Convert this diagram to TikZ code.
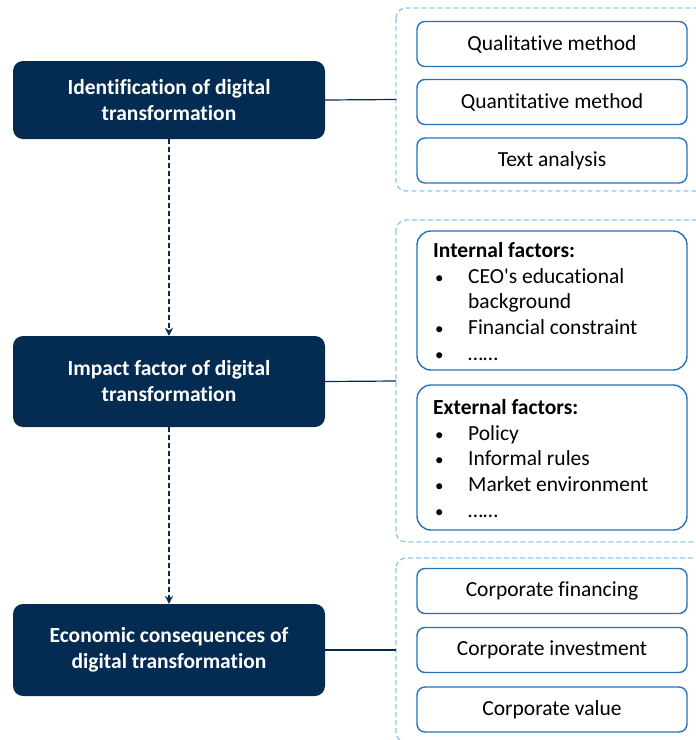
\documentclass[tikz,border=0pt]{standalone}
\usepackage{fontspec}
\setmainfont{Carlito}[Ligatures={TeXOff,NoCommon}]
\usetikzlibrary{arrows.meta}
\definecolor{navy}{RGB}{4,44,82}
\definecolor{boxblue}{RGB}{36,114,186}
\definecolor{lightdash}{RGB}{140,196,232}
\tikzset{
  mainbox/.style={draw=none, fill=navy, rounded corners=10pt, minimum width=312pt, text=white, font=\fontsize{21.5}{26}\selectfont\bfseries, align=center, inner sep=0pt},
  group/.style={draw=lightdash, dashed, dash pattern=on 5pt off 3pt, line width=1.2pt, rounded corners=10pt, inner sep=0pt},
  itembox/.style={draw=boxblue, line width=1.4pt, rounded corners=8pt, minimum width=270pt, minimum height=45pt, font=\fontsize{21.5}{26}\selectfont, inner sep=0pt},
  listbox/.style={draw=boxblue, line width=1.4pt, rounded corners=14pt, minimum width=270pt, inner sep=0pt},
  listtext/.style={anchor=north west, inner sep=0pt, align=left, font=\fontsize{21.5}{25.8}\selectfont},
  flow/.style={navy, line width=1.2pt, dash pattern=on 5pt off 3pt, -{Stealth[length=8pt,width=8pt]}},
  link/.style={navy, line width=1.2pt}
}
\newcommand{\bitem}[1]{\makebox[35pt][l]{\hspace{2pt}{\fontsize{17}{17}\selectfont•}}#1}
\begin{document}
\begin{tikzpicture}[x=1pt,y=-1pt]
\useasboundingbox (0,0) rectangle (696,740);
% dashed groups
\draw[group] (396,8) rectangle (712,191);
\coordinate (g1) at (396,99.5);
\draw[group] (396,220) rectangle (712,542);
\coordinate (g2) at (396,381);
\draw[group] (396,558) rectangle (712,742);
\coordinate (g3) at (396,650);
% main boxes
\node[mainbox, minimum height=78pt] (b1) at (169,100) {Identification of digital\\transformation};
\node[mainbox, minimum height=91pt] (b2) at (169,381.5) {Impact factor of digital\\transformation};
\node[mainbox, minimum height=92pt] (b3) at (169,650) {Economic consequences of\\digital transformation};
% flow arrows
\draw[flow] (b1.south) -- (b2.north);
\draw[flow] (b2.south) -- (b3.north);
% links
\draw[link] (b1.east) -- (g1);
\draw[link] (b2.east) -- (g2);
\draw[link] (b3.east) -- (g3);
% group 1 items
\node[itembox] (q1) at (552,44) {Qualitative method};
\node[itembox] (q2) at (552,102) {Quantitative method};
\node[itembox] (q3) at (552,160.5) {Text analysis};
% group 2 lists
\node[listbox, minimum height=139pt] (inf) at (552,300.5) {};
\node[listtext] (inft) at (433,242) {\textbf{Internal factors:}\\\bitem{CEO's educational}\\\hspace*{35pt}background\\\bitem{Financial constraint}\\\bitem{……}};
\node[listbox, minimum height=145pt] (exf) at (552,457.5) {};
\node[listtext] (exft) at (433,399) {\textbf{External factors:}\\\bitem{Policy}\\\bitem{Informal rules}\\\bitem{Market environment}\\\bitem{……}};
% group 3 items
\node[itembox] (c1) at (552,591) {Corporate financing};
\node[itembox] (c2) at (552,650) {Corporate investment};
\node[itembox] (c3) at (552,709.5) {Corporate value};
\end{tikzpicture}
\end{document}
